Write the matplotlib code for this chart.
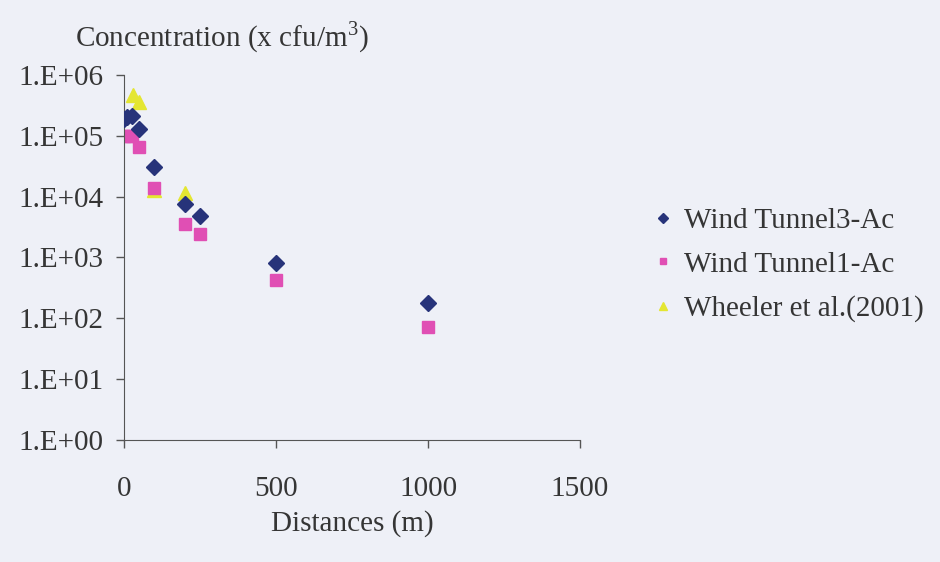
import matplotlib
matplotlib.use("Agg")
import matplotlib.pyplot as plt

# data
dist_wt3 = [0, 10, 25, 50, 100, 200, 250, 500, 1000]
conc_wt3 = [1.9e5, 2.0e5, 2.1e5, 1.3e5, 3.1e4, 7.5e3, 4.8e3, 800, 180]

dist_wt1 = [0, 10, 25, 50, 100, 200, 250, 500, 1000]
conc_wt1 = [1.0e5, 1.0e5, 1.0e5, 6.5e4, 1.4e4, 3.6e3, 2.4e3, 420, 72]

dist_wh = [30, 50, 100, 200]
conc_wh = [4.6e5, 3.6e5, 1.3e4, 1.15e4]

labels = ["Wind Tunnel3-Ac", "Wind Tunnel1-Ac", "Wheeler et al.(2001)"]
ytick_vals = [1e0, 1e1, 1e2, 1e3, 1e4, 1e5, 1e6]
ytick_labels = ["1.E+00", "1.E+01", "1.E+02", "1.E+03", "1.E+04", "1.E+05", "1.E+06"]

bg = "#eef0f7"
txt = "#353535"
plt.rcParams["font.family"] = ["Liberation Serif", "DejaVu Serif"]
plt.rcParams["mathtext.fontset"] = "stix"

fig = plt.figure(figsize=(9.4, 5.62), dpi=100, facecolor=bg)
ax = fig.add_axes([0.132, 0.217, 0.485, 0.65], facecolor=bg)

ax.plot(dist_wt3, conc_wt3, "D", color="#27337a", ms=8, mec="#27337a", label=labels[0], zorder=3)
ax.plot(dist_wt1, conc_wt1, "s", color="#e04fb4", ms=8, mec="#e04fb4", label=labels[1], zorder=2)
ax.plot(dist_wh, conc_wh, "^", color="#e4e632", ms=10, mec="#e4e632", label=labels[2], zorder=1)

ax.set_yscale("log")
ax.set_ylim(1, 1e6)
ax.set_xlim(0, 1500)
ax.set_yticks(ytick_vals)
ax.set_yticklabels(ytick_labels)
ax.minorticks_off()
ax.set_xticks([0, 500, 1000, 1500])

for s in ["top", "right"]:
    ax.spines[s].set_visible(False)
for s in ["left", "bottom"]:
    ax.spines[s].set_color("#555555")
ax.tick_params(colors="#555555", labelcolor=txt, labelsize=21, length=6, width=1)
ax.tick_params(axis="y", pad=9)
ax.tick_params(axis="x", pad=20)

fig.text(0.08, 0.918, r"Concentration (x cfu/m$^{\mathregular{3}}$)", fontsize=21, color=txt)
ax.set_xlabel("Distances (m)", fontsize=21, color=txt, labelpad=6)

leg = ax.legend(loc="center left", bbox_to_anchor=(1.1, 0.48), frameon=False,
                fontsize=21, handletextpad=0.3, labelspacing=0.6, markerscale=0.6,
                handlelength=0.8, labelcolor=txt)

fig.savefig("out.png", dpi=100, facecolor=bg)
